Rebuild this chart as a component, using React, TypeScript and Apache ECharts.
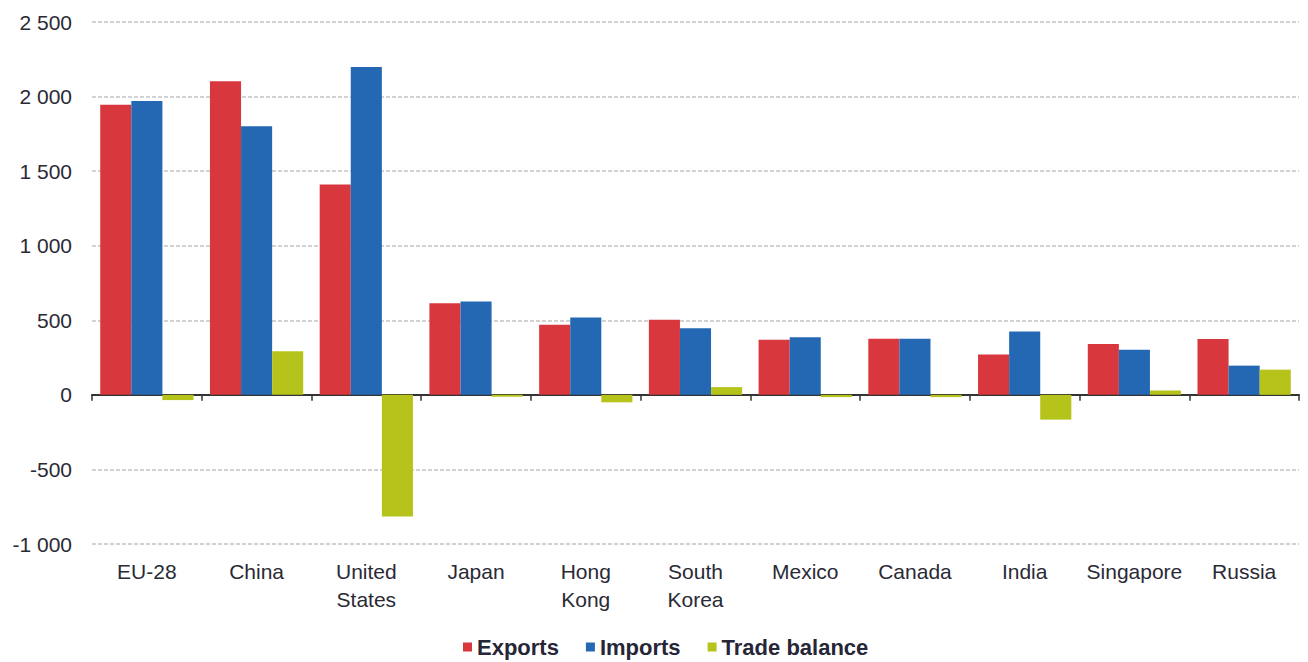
import React, { useEffect, useRef } from "react";
import * as echarts from "echarts";

const categories = ["EU-28", "China", "United\nStates", "Japan", "Hong\nKong", "South\nKorea", "Mexico", "Canada", "India", "Singapore", "Russia"];
const exportsData = [1946, 2103, 1410, 614, 470, 503, 369, 377, 270, 341, 374];
const importsData = [1970, 1801, 2199, 626, 518, 447, 386, 377, 424, 303, 196];
const tradeBalance = [-35, 292, -815, -12, -50, 52, -15, -15, -166, 30, 169];

const FONT = "'Liberation Sans', Arial, sans-serif";

function fmt(v: number): string {
  const neg = v < 0;
  const s = String(Math.abs(v));
  const out = s.replace(/\B(?=(\d{3})+(?!\d))/g, " ");
  return (neg ? "-" : "") + out;
}

export default function App() {
  const ref = useRef<HTMLDivElement>(null);
  useEffect(() => {
    if (!ref.current) return;
    const chart = echarts.init(ref.current, null, { renderer: "svg" });
    chart.setOption({
      animation: false,
      backgroundColor: "#ffffff",
      textStyle: { fontFamily: FONT },
      grid: { left: 92, right: 9, top: 22, bottom: 118, containLabel: false },
      legend: {
        top: 631,
        left: 458,
        itemWidth: 9,
        itemHeight: 9,
        itemGap: 27,
        icon: "rect",
        textStyle: { fontFamily: FONT, fontSize: 22, fontWeight: "bold", color: "#262636", padding: [0, 0, 0, 0] },
        data: ["Exports", "Imports", "Trade balance"],
      },
      xAxis: [
        {
          type: "category",
          data: categories,
          axisLine: { onZero: true, lineStyle: { color: "#333333", width: 2 } },
          axisTick: { show: true, length: 6, lineStyle: { color: "#333333", width: 1.5 } },
          axisLabel: { show: false },
          splitLine: { show: false },
        },
        {
          type: "category",
          data: categories,
          position: "bottom",
          axisLine: { show: false },
          axisTick: { show: false },
          axisLabel: {
            show: true,
            margin: 13,
            fontFamily: FONT,
            fontSize: 21,
            lineHeight: 28,
            color: "#2a2a35",
            interval: 0,
          },
          splitLine: { show: false },
        },
      ],
      yAxis: {
        type: "value",
        min: -1000,
        max: 2500,
        interval: 500,
        axisLine: { show: false },
        axisTick: { show: false },
        axisLabel: {
          margin: 20,
          fontFamily: FONT,
          fontSize: 21,
          color: "#2a2a35",
          formatter: (v: number) => fmt(v),
        },
        splitLine: { show: true, lineStyle: { color: "#c4c4c4", type: [4, 2], width: 1.5 } },
      },
      series: [
        {
          name: "Exports",
          type: "bar",
          xAxisIndex: 0,
          data: exportsData,
          barGap: "0%",
          barCategoryGap: "15%",
          itemStyle: { color: "#d9373e" },
        },
        {
          name: "Imports",
          type: "bar",
          xAxisIndex: 0,
          data: importsData,
          barGap: "0%",
          barCategoryGap: "15%",
          itemStyle: { color: "#2468b4" },
        },
        {
          name: "Trade balance",
          type: "bar",
          xAxisIndex: 0,
          data: tradeBalance,
          barGap: "0%",
          barCategoryGap: "15%",
          itemStyle: { color: "#b6c31a" },
        },
      ],
    });
    return () => chart.dispose();
  }, []);
  return <div ref={ref} style={{ width: 1308, height: 662, position: "absolute", left: 0, top: 0 }} />;
}
